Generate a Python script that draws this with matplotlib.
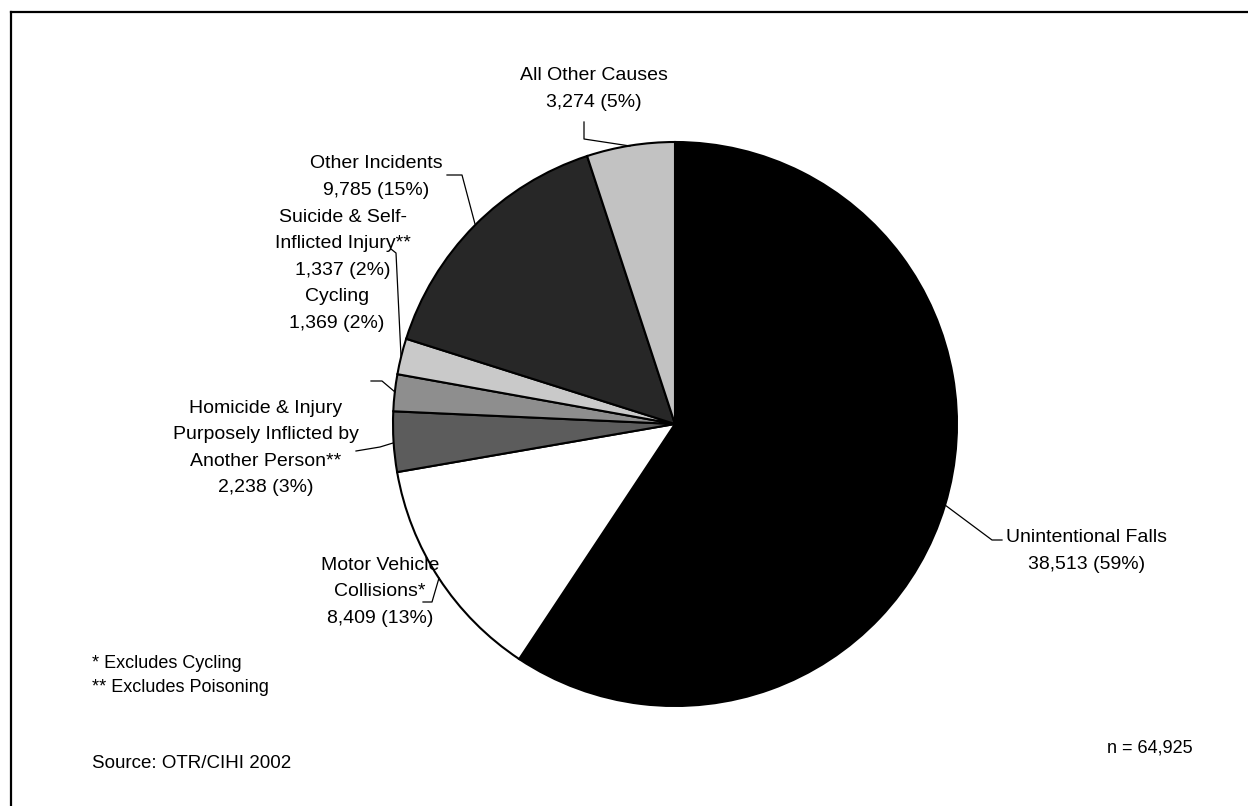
import matplotlib
matplotlib.use("Agg")
import matplotlib.pyplot as plt

plt.rcParams['font.family'] = ['Liberation Sans', 'DejaVu Sans']

# data
causes = ["Unintentional Falls", "Motor Vehicle\nCollisions*",
          "Homicide & Injury\nPurposely Inflicted by\nAnother Person**",
          "Cycling", "Suicide & Self-\nInflicted Injury**",
          "Other Incidents", "All Other Causes"]
counts = [38513, 8409, 2238, 1369, 1337, 9785, 3274]
pcts = [59, 13, 3, 2, 2, 15, 5]
fills = ["#000000", "#ffffff", "#5c5c5c", "#8e8e8e", "#c9c9c9", "#272727", "#c2c2c2"]
total = 64925

W, H = 1248, 806
fig = plt.figure(figsize=(W / 100, H / 100), dpi=100)
ax = fig.add_axes([0, 0, 1, 1])

cx, cy, r = 675, H - 424, 282
ax.pie(counts, colors=fills, startangle=90, counterclock=False,
       center=(cx, cy), radius=r,
       wedgeprops=dict(edgecolor="black", linewidth=1.5))
ax.set_xlim(0, W)
ax.set_ylim(0, H)
ax.set_aspect("auto")
ax.axis("off")

def lbl(i):
    return "%s\n%s (%d%%)" % (causes[i], format(counts[i], ","), pcts[i])

# label positions (pixels from top-left) and leader lines
spots = [(1087, 551), (380, 592), (266, 448), (337, 310), (343, 244), (376, 177), (594, 89)]
leaders = [
    [(945, 505), (992, 540), (1002, 540)],
    [(423, 602), (432, 602), (439, 578)],
    [(356, 451), (380, 447), (393, 443)],
    [(371, 381), (382, 381), (395, 392)],
    [(391, 249), (396, 253), (401, 356)],
    [(447, 175), (462, 175), (475, 224)],
    [(584, 122), (584, 139), (630, 146)],
]
for i in range(len(counts)):
    x, y = spots[i]
    ax.text(x, H - y, lbl(i), ha="center", va="center", fontsize=14,
            linespacing=1.72)
    xs = [p[0] for p in leaders[i]]
    ys = [H - p[1] for p in leaders[i]]
    ax.plot(xs, ys, color="black", lw=0.9)

ax.text(92, H - 663, "* Excludes Cycling", ha="left", va="center", fontsize=13)
ax.text(92, H - 688, "** Excludes Poisoning", ha="left", va="center", fontsize=13)
ax.text(92, H - 763, "Source: OTR/CIHI 2002", ha="left", va="center", fontsize=13.5)
ax.text(1193, H - 748, "n = " + format(total, ","), ha="right", va="center", fontsize=13)

# outer frame (clipped at right and bottom)
ax.plot([11, W + 5], [H - 12, H - 12], color="black", lw=1.6, clip_on=False)
ax.plot([11, 11], [H - 12, -5], color="black", lw=1.6, clip_on=False)

fig.savefig("out.png", dpi=100)
